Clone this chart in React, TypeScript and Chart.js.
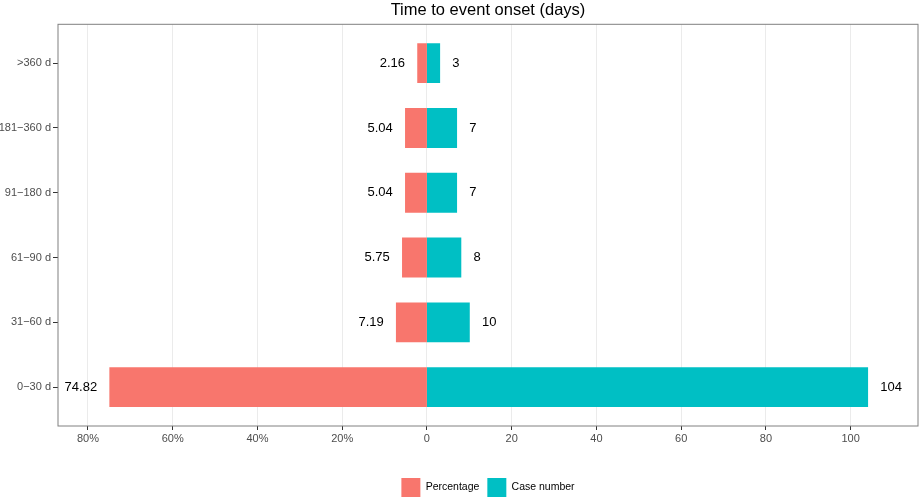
import React, { useEffect, useRef } from "react";
import { Chart, registerables } from "chart.js";

Chart.register(...registerables);

const categories = ["0\u221230 d", "31\u221260 d", "61\u221290 d", "91\u2212180 d", "181\u2212360 d", ">360 d"];
const percentage = [74.82, 7.19, 5.75, 5.04, 5.04, 2.16];
const caseNumber = [104, 10, 8, 7, 7, 3];
const xTicks = [-80, -60, -40, -20, 0, 20, 40, 60, 80, 100];
const seriesNames = ["Percentage", "Case number"];
const labelOffset = 3;

const RED = "#F8766D";
const CYAN = "#00BFC4";
const FONT = "'Liberation Sans', Arial, Helvetica, sans-serif";

const panelBorder = {
  id: "panelBorder",
  afterDraw(chart: any) {
    const { ctx, chartArea } = chart;
    ctx.save();
    ctx.strokeStyle = "#808080";
    ctx.lineWidth = 1;
    ctx.strokeRect(chartArea.left, chartArea.top, chartArea.right - chartArea.left, chartArea.bottom - chartArea.top);
    ctx.restore();
  },
};

const valueLabels = {
  id: "valueLabels",
  afterDatasetsDraw(chart: any) {
    const { ctx } = chart;
    const xs = chart.scales.x;
    const ys = chart.scales.y;
    ctx.save();
    ctx.font = `13px ${FONT}`;
    ctx.fillStyle = "#000000";
    ctx.textBaseline = "middle";
    categories.forEach((_, i) => {
      const y = ys.getPixelForValue(i);
      ctx.textAlign = "right";
      ctx.fillText(percentage[i].toFixed(2), xs.getPixelForValue(-percentage[i] - labelOffset), y);
      ctx.textAlign = "left";
      ctx.fillText(String(caseNumber[i]), xs.getPixelForValue(caseNumber[i] + labelOffset), y);
    });
    ctx.restore();
  },
};

export default function App() {
  const ref = useRef<HTMLCanvasElement | null>(null);

  useEffect(() => {
    if (!ref.current) return;
    Chart.defaults.font.family = FONT;
    const chart = new Chart(ref.current, {
      type: "bar",
      data: {
        datasets: [
          {
            label: seriesNames[0],
            data: percentage.map((v, i) => ({ x: -v, y: i })),
            backgroundColor: RED,
            borderWidth: 0,
            inflateAmount: 0.5,
            categoryPercentage: 0.6,
            barPercentage: 1.0,
          },
          {
            label: seriesNames[1],
            data: caseNumber.map((v, i) => ({ x: v, y: i })),
            backgroundColor: CYAN,
            borderWidth: 0,
            inflateAmount: 0.5,
            categoryPercentage: 0.6,
            barPercentage: 1.0,
          },
        ],
      } as any,
      options: {
        indexAxis: "y",
        animation: false,
        responsive: true,
        maintainAspectRatio: false,
        layout: { padding: { left: 0, right: 2, top: 0, bottom: 0 } },
        scales: {
          x: {
            type: "linear",
            stacked: true,
            min: -87.06,
            max: 115.9,
            offset: false,
            afterBuildTicks: (s: any) => {
              s.ticks = xTicks.map((v) => ({ value: v }));
            },
            afterFit: (s: any) => {
              s.height = 44;
            },
            grid: {
              color: "#EBEBEB",
              lineWidth: 1,
              tickColor: "#333333",
              tickLength: 4,
              drawOnChartArea: true,
              offset: false,
            },
            border: { display: false },
            ticks: {
              autoSkip: false,
              maxRotation: 0,
              padding: 2,
              color: "#4D4D4D",
              font: { size: 11, family: FONT },
              callback: (v: any) => (Number(v) < 0 ? `${-Number(v)}%` : `${v}`),
            },
          },
          y: {
            type: "linear",
            stacked: true,
            min: -0.6,
            max: categories.length - 1 + 0.6,
            offset: false,
            afterBuildTicks: (s: any) => {
              s.ticks = categories.map((_, i) => ({ value: i }));
            },
            afterFit: (s: any) => {
              s.width = 58;
            },
            grid: {
              drawOnChartArea: false,
              tickColor: "#333333",
              tickLength: 5,
              offset: false,
            },
            border: { display: false },
            ticks: {
              autoSkip: false,
              padding: 2,
              color: "#4D4D4D",
              font: { size: 11, family: FONT },
              callback: (v: any) => categories[Number(v)] ?? "",
            },
          },
        },
        plugins: {
          title: {
            display: true,
            fullSize: false,
            text: "Time to event onset (days)",
            color: "#000000",
            font: { size: 16.5, weight: "normal", family: FONT },
            padding: { top: 1, bottom: 3.5 },
          },
          legend: {
            display: true,
            position: "bottom",
            fullSize: false,
            maxHeight: 29,
            labels: {
              boxWidth: 19,
              boxHeight: 19,
              padding: 8,
              color: "#000000",
              font: { size: 10.5, family: FONT },
            },
          },
          tooltip: { enabled: false },
        },
      } as any,
      plugins: [panelBorder, valueLabels],
    });
    return () => chart.destroy();
  }, []);

  return (
    <div style={{ position: "absolute", left: 0, top: 0, width: 920, height: 499 }}>
      <canvas ref={ref} />
    </div>
  );
}
